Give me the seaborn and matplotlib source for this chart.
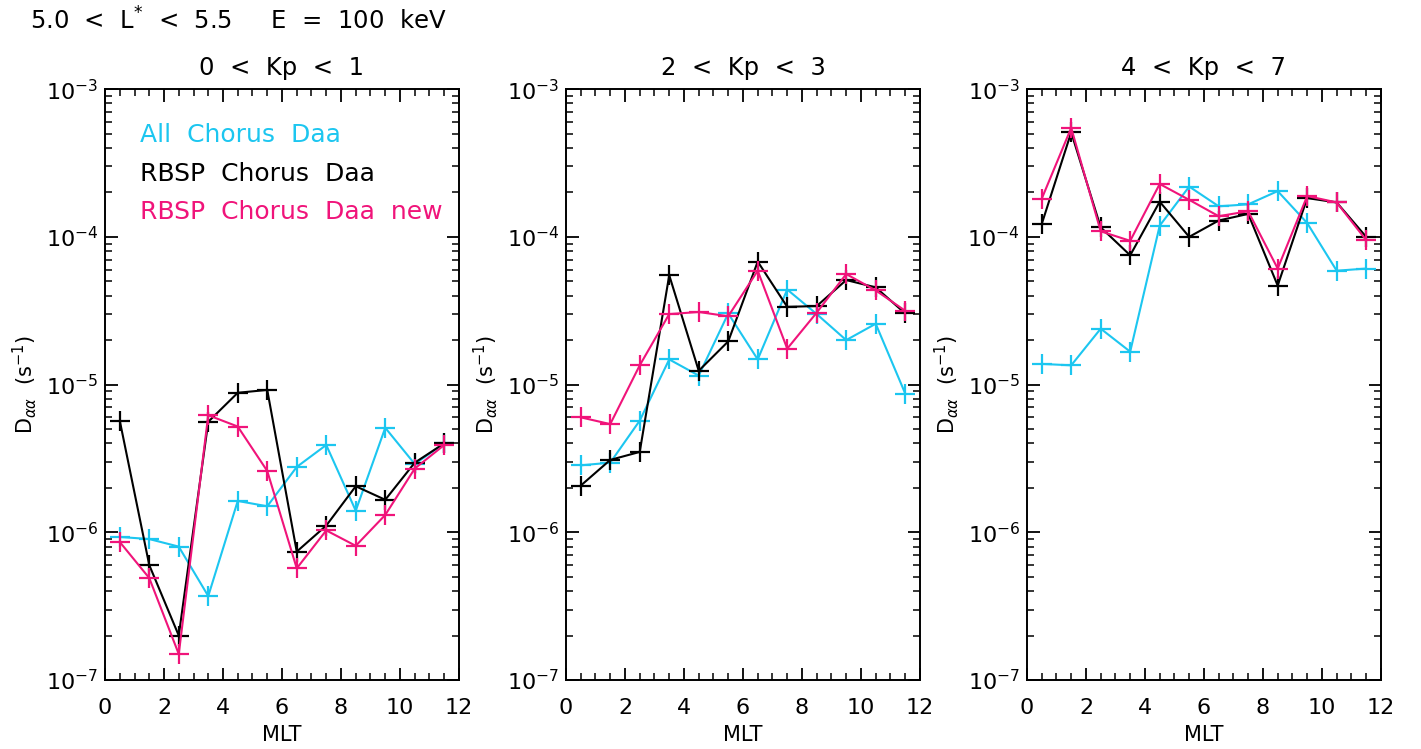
import numpy as np
import pandas as pd
import matplotlib
matplotlib.use("Agg")
import matplotlib.pyplot as plt
import seaborn as sns
from matplotlib.ticker import LogLocator, MultipleLocator, NullFormatter

# ---- data ----
mlt = [0.5, 1.5, 2.5, 3.5, 4.5, 5.5, 6.5, 7.5, 8.5, 9.5, 10.5, 11.5]
series_names = ["All Chorus Daa", "RBSP Chorus Daa", "RBSP Chorus Daa new"]
legend_labels = ["All  Chorus  Daa", "RBSP  Chorus  Daa", "RBSP  Chorus  Daa  new"]
panel_titles = ["0  <  Kp  <  1", "2  <  Kp  <  3", "4  <  Kp  <  7"]
header = r"5.0  <  L$^{*}$  <  5.5     E  =  100  keV"

# Kp 0-1
all_kp01 = [9.3e-7, 9.0e-7, 8.0e-7, 3.7e-7, 1.63e-6, 1.5e-6, 2.77e-6, 3.9e-6, 1.4e-6, 5.1e-6, 2.9e-6, 4.0e-6]
rbsp_kp01 = [5.7e-6, 6.0e-7, 2.0e-7, 5.6e-6, 8.8e-6, 9.2e-6, 7.4e-7, 1.11e-6, 2.05e-6, 1.66e-6, 2.96e-6, 4.0e-6]
new_kp01 = [8.6e-7, 4.9e-7, 1.5e-7, 6.2e-6, 5.2e-6, 2.6e-6, 5.7e-7, 1.03e-6, 8.1e-7, 1.31e-6, 2.7e-6, 3.9e-6]
# Kp 2-3
all_kp23 = [2.84e-6, 2.96e-6, 5.7e-6, 1.48e-5, 1.15e-5, 3.03e-5, 1.48e-5, 4.4e-5, 3.0e-5, 2.0e-5, 2.58e-5, 8.7e-6]
rbsp_kp23 = [2.07e-6, 3.09e-6, 3.5e-6, 5.5e-5, 1.24e-5, 1.96e-5, 6.8e-5, 3.36e-5, 3.4e-5, 5.1e-5, 4.55e-5, 3.03e-5]
new_kp23 = [6.0e-6, 5.4e-6, 1.35e-5, 3.0e-5, 3.1e-5, 2.9e-5, 5.9e-5, 1.75e-5, 3.07e-5, 5.6e-5, 4.34e-5, 3.16e-5]
# Kp 4-7
all_kp47 = [1.38e-5, 1.35e-5, 2.39e-5, 1.67e-5, 1.19e-4, 2.19e-4, 1.61e-4, 1.66e-4, 2.04e-4, 1.24e-4, 5.9e-5, 6.1e-5]
rbsp_kp47 = [1.22e-4, 5.1e-4, 1.16e-4, 7.5e-5, 1.73e-4, 1.0e-4, 1.29e-4, 1.43e-4, 4.68e-5, 1.83e-4, 1.71e-4, 1.0e-4]
new_kp47 = [1.81e-4, 5.47e-4, 1.09e-4, 9.4e-5, 2.28e-4, 1.78e-4, 1.38e-4, 1.49e-4, 6.1e-5, 1.89e-4, 1.71e-4, 9.5e-5]

panels = [
    (all_kp01, rbsp_kp01, new_kp01),
    (all_kp23, rbsp_kp23, new_kp23),
    (all_kp47, rbsp_kp47, new_kp47),
]

colors = {"All Chorus Daa": "#1cc6f0", "RBSP Chorus Daa": "#000000", "RBSP Chorus Daa new": "#f0147a"}

# ---- style ----
sns.set_style("ticks")
plt.rcParams["font.family"] = ["DejaVu Sans"]
plt.rcParams["mathtext.fontset"] = "dejavusans"
plt.rcParams["text.color"] = "black"
plt.rcParams["axes.labelcolor"] = "black"

fig = plt.figure(figsize=(14.21, 7.49), dpi=100)
lefts = [0.0739, 0.3983, 0.7227]
width = 0.2491
bottom = 0.0921
height = 0.7889

for i, (vals, title) in enumerate(zip(panels, panel_titles)):
    ax = fig.add_axes([lefts[i], bottom, width, height])
    frames = []
    for name, v in zip(series_names, vals):
        frames.append(pd.DataFrame({"MLT": mlt, "Daa": v, "series": name}))
    df = pd.concat(frames, ignore_index=True)
    for name in series_names:
        sub = df[df["series"] == name]
        sns.lineplot(data=sub, x="MLT", y="Daa", ax=ax, color=colors[name],
                     marker="+", markersize=14, markeredgewidth=1.6,
                     markeredgecolor=colors[name], linewidth=1.5,
                     legend=False, estimator=None, errorbar=None)
    ax.set_yscale("log")
    ax.set_xlim(0, 12)
    ax.set_ylim(1e-7, 1e-3)
    ax.xaxis.set_major_locator(MultipleLocator(2))
    ax.xaxis.set_minor_locator(MultipleLocator(0.5))
    ax.yaxis.set_major_locator(LogLocator(base=10, numticks=10))
    ax.yaxis.set_minor_locator(LogLocator(base=10, subs=np.arange(2, 10), numticks=20))
    ax.yaxis.set_minor_formatter(NullFormatter())
    ax.tick_params(which="both", direction="in", top=True, right=True, colors="black")
    ax.tick_params(which="major", length=9, width=1.3)
    ax.tick_params(which="minor", length=5, width=1.1)
    ax.tick_params(axis="x", which="major", labelsize=16, pad=13)
    ax.tick_params(axis="y", which="major", labelsize=16, pad=5)
    for s in ax.spines.values():
        s.set_linewidth(1.4)
        s.set_color("black")
    ax.set_xlabel("MLT", fontsize=15, labelpad=5)
    ax.set_ylabel(r"D$_{\alpha\alpha}$  (s$^{-1}$)", fontsize=15, labelpad=5)
    ax.set_title(title, fontsize=17.5, pad=10, color="black")
    if i == 0:
        ys = [0.922, 0.857, 0.792]
        for name, lab, yy in zip(series_names, legend_labels, ys):
            ax.text(0.099, yy, lab, transform=ax.transAxes, color=colors[name],
                    fontsize=18, ha="left", va="center")

fig.text(0.021, 0.972, header, fontsize=17.5, ha="left", va="center", color="black")

fig.savefig("out.png", dpi=100)
